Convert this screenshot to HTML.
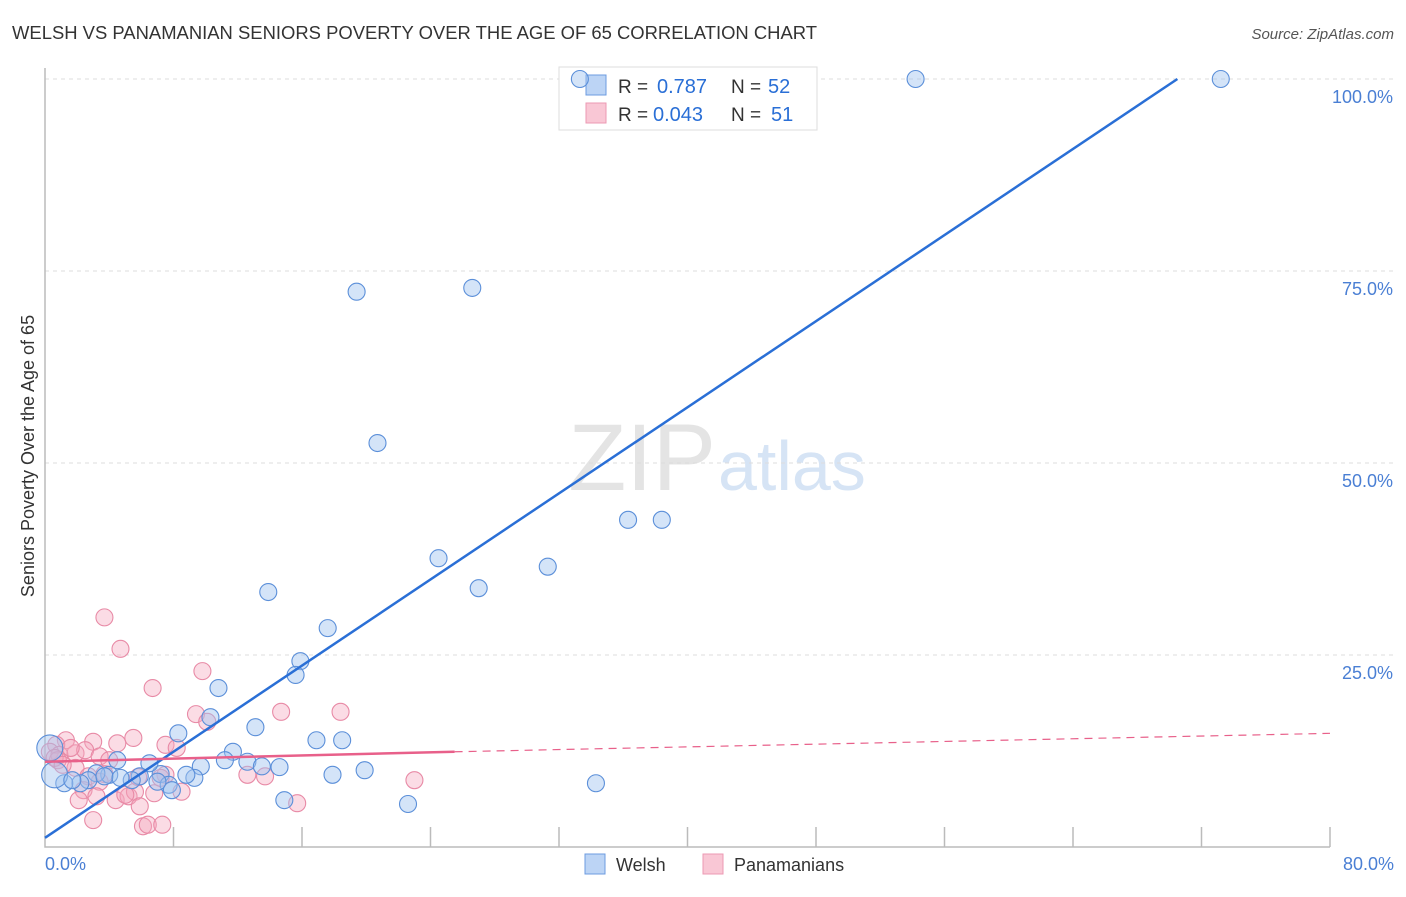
<!DOCTYPE html>
<html><head><meta charset="utf-8"><style>
body{margin:0;background:#fff;font-family:"Liberation Sans",sans-serif;}
svg text{font-family:"Liberation Sans",sans-serif;}
</style></head><body>
<svg id="chart" width="1406" height="892" xmlns="http://www.w3.org/2000/svg">
<text x="12" y="39" font-size="18" fill="#333" textLength="805" lengthAdjust="spacingAndGlyphs">WELSH VS PANAMANIAN SENIORS POVERTY OVER THE AGE OF 65 CORRELATION CHART</text>
<text x="1394" y="39" font-size="15" fill="#555" text-anchor="end" font-style="italic">Source: ZipAtlas.com</text>
<text x="716" y="490" font-size="95" fill="#e4e4e4" text-anchor="end" font-family="Liberation Serif">ZIP</text>
<text x="718" y="490" font-size="70" fill="#d6e4f5">atlas</text>
<g id="grid"></g>
<g>
<rect x="559" y="67" width="258" height="63" fill="#fff" stroke="#ddd"/>
<rect x="586" y="75" width="20" height="20" fill="#bcd4f5" stroke="#6c9be0"/>
<rect x="586" y="103" width="20" height="20" fill="#f9c7d5" stroke="#ec9ab3"/>
<text x="618" y="93" font-size="19" fill="#333">R =</text>
<text x="657" y="93" font-size="20" fill="#2a6fd6">0.787</text>
<text x="731" y="93" font-size="19" fill="#333">N =</text>
<text x="768" y="93" font-size="20" fill="#2a6fd6">52</text>
<text x="618" y="121" font-size="19" fill="#333">R =</text>
<text x="653" y="121" font-size="20" fill="#2a6fd6">0.043</text>
<text x="731" y="121" font-size="19" fill="#333">N =</text>
<text x="771" y="121" font-size="20" fill="#2a6fd6">51</text>
</g>
<g id="marks"></g>
<text transform="translate(34,456) rotate(-90)" font-size="18" fill="#333" text-anchor="middle">Seniors Poverty Over the Age of 65</text>
<text x="45" y="870" font-size="18" fill="#4a7fd4">0.0%</text>
<text x="1394" y="870" font-size="18" fill="#4a7fd4" text-anchor="end">80.0%</text>
<g>
<rect x="585" y="854" width="20" height="20" fill="#bcd4f5" stroke="#6c9be0"/>
<text x="616" y="871" font-size="18" fill="#333">Welsh</text>
<rect x="703" y="854" width="20" height="20" fill="#f9c7d5" stroke="#ec9ab3"/>
<text x="734" y="871" font-size="18" fill="#333">Panamanians</text>
</g>
</svg>
<script>
const yTicks=[25,50,75,100];
const yTickLabels=["25.0%","50.0%","75.0%","100.0%"];
const xTicks=[8,16,24,32,40,48,56,64,72,80];
const welshX=[33.3,54.2,73.2,19.4,26.6,20.7,36.3,38.4,24.5,31.3,27.0,13.9,17.6,15.9,15.6,10.8,8.3,10.3,13.1,11.7,11.2,12.6,13.5,14.6,16.9,18.5,9.7,19.9,17.9,9.3,8.8,7.2,6.5,7.7,7.9,5.9,5.4,4.5,4.0,3.2,2.7,2.2,1.2,0.6,0.3,14.9,22.6,34.3,3.7,1.7,7.0,4.7];
const welshY=[100,100,100,72.3,72.8,52.6,42.6,42.6,37.6,36.5,33.7,33.2,28.5,24.2,22.4,20.7,14.8,16.9,15.6,12.4,11.3,11.1,10.5,10.4,13.9,13.9,10.5,10.0,9.4,9.0,9.4,9.5,10.9,8.1,7.4,9.2,8.7,11.3,9.4,9.6,8.7,8.3,8.3,9.4,12.9,6.1,5.6,8.3,9.2,8.7,8.5,9.0];
const panX=[3.7,4.7,6.7,9.8,9.4,14.7,18.4,10.1,7.5,8.2,5.5,4.5,3.0,1.3,0.7,0.3,0.9,1.9,2.5,3.4,0.8,1.9,2.7,3.7,2.4,3.4,3.2,4.4,5.2,5.6,7.5,6.8,5.9,8.5,12.6,13.7,23.0,15.7,6.1,6.4,7.3,3.0,0.6,1.6,4.0,5.0,2.1,7.2,1.1,5.8];
const panY=[29.9,25.8,20.7,22.9,17.3,17.6,17.6,16.3,13.3,12.9,14.2,13.5,13.7,13.9,13.3,12.4,12.0,12.2,12.6,11.8,11.3,10.3,9.2,9.5,7.4,8.5,6.6,6.1,6.6,7.2,9.4,7.0,5.3,7.2,9.4,9.2,8.7,5.7,2.7,2.9,2.9,3.5,11.6,12.9,11.3,6.8,6.1,9.0,10.7,9.1];
const welshLine=[[0,1.2],[70.5,100]];
const panLineSolid=[[0,11.1],[25.5,12.4]];
const panLineDash=[[25.5,12.4],[80,14.8]];
const NS="http://www.w3.org/2000/svg";
const X=v=>45+v*(1285/80), Y=v=>847-v*7.68;
function mk(t,a,p){const e=document.createElementNS(NS,t);for(const k in a)e.setAttribute(k,a[k]);p.appendChild(e);return e;}
const grid=document.getElementById('grid'), marks=document.getElementById('marks');
yTicks.forEach((t,i)=>{
 const l=mk('line',{x1:45,x2:1395,y1:Y(t),y2:Y(t),stroke:'#ddd','stroke-dasharray':'4,4'},grid);
 
 
 const tx=mk('text',{x:1393,y:Y(t)+24,'font-size':18,fill:'#4a7fd4','text-anchor':'end'},grid);
 tx.textContent=yTickLabels[i];
 
 
});
const ax=mk('path',{d:'M45,68V847H1330',fill:'none',stroke:'#bbb','stroke-width':1.5},grid);


xTicks.forEach(t=>{
 const l=mk('line',{x1:X(t),x2:X(t),y1:827,y2:847,stroke:'#bbb','stroke-width':1.5},grid);
 
 
});
panX.forEach((x,i)=>{
 const c=mk('circle',{cx:X(x),cy:Y(panY[i]),r:8.5,fill:'rgba(244,168,190,0.4)',stroke:'#e88aa6','stroke-width':1.1},marks);
 
 
});
welshX.forEach((x,i)=>{
 const big=(i===43||i===44);
 const c=mk('circle',{cx:X(x),cy:Y(welshY[i]),r:big?13:8.5,fill:'rgba(160,196,240,0.45)',stroke:'#5b8fd9','stroke-width':1.1},marks);
 
 
});
let l1=mk('line',{x1:X(welshLine[0][0]),y1:Y(welshLine[0][1]),x2:X(welshLine[1][0]),y2:Y(welshLine[1][1]),stroke:'#2a6fd6','stroke-width':2.5},marks);


let l2=mk('line',{x1:X(panLineSolid[0][0]),y1:Y(panLineSolid[0][1]),x2:X(panLineSolid[1][0]),y2:Y(panLineSolid[1][1]),stroke:'#e8608a','stroke-width':2.5},marks);


let l3=mk('line',{x1:X(panLineDash[0][0]),y1:Y(panLineDash[0][1]),x2:X(panLineDash[1][0]),y2:Y(panLineDash[1][1]),stroke:'#e8608a','stroke-width':1.2,'stroke-dasharray':'8,6'},marks);


</script>
</body></html>
